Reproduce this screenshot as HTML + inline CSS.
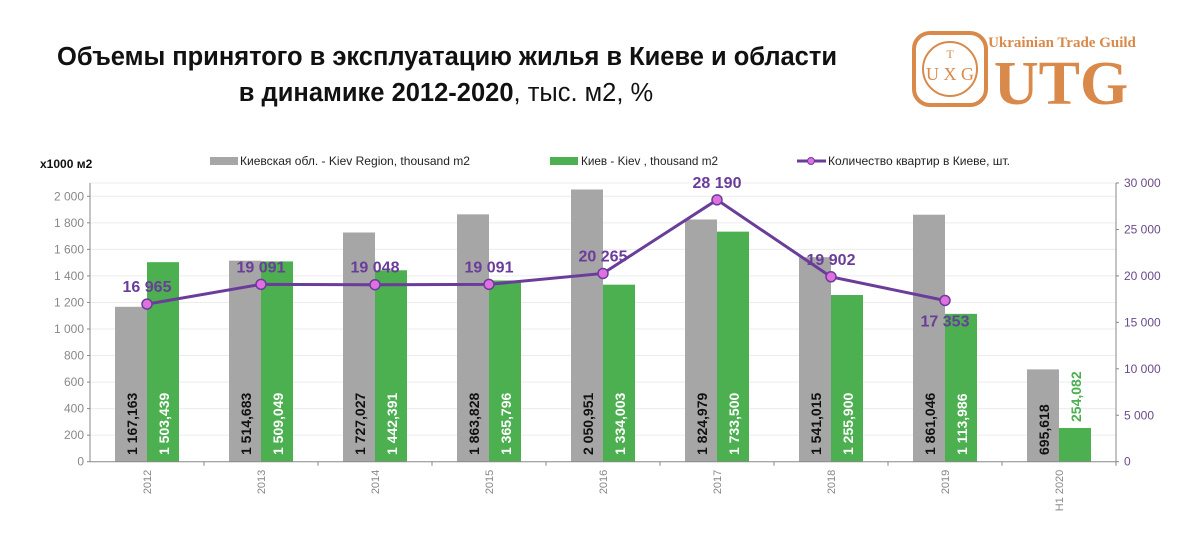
<!DOCTYPE html>
<html><head><meta charset="utf-8">
<style>
body{margin:0;background:#fff;width:1200px;height:533px;overflow:hidden;font-family:"Liberation Sans",sans-serif}
</style></head><body>
<svg width="1200" height="533" xmlns="http://www.w3.org/2000/svg">
<text x="447" y="65" text-anchor="middle" font-size="25.5" font-weight="bold" fill="#111" textLength="780">Объемы принятого в эксплуатацию жилья в Киеве и области</text>
<text x="446" y="101" text-anchor="middle" font-size="25.5" fill="#111"><tspan font-weight="bold">в динамике 2012-2020</tspan>, тыс. м2, %</text>
<g>
<rect x="914" y="33" width="72" height="72" rx="16" fill="none" stroke="#d9894a" stroke-width="4"/>
<circle cx="950" cy="69" r="27" fill="none" stroke="#d9894a" stroke-width="2"/>
<text x="950" y="58" text-anchor="middle" font-family="Liberation Serif" font-size="12" fill="#d9894a">T</text>
<text x="950" y="80" text-anchor="middle" font-family="Liberation Serif" font-size="18" fill="#d9894a">U X G</text>
<text x="1062" y="47" text-anchor="middle" font-family="Liberation Serif" font-size="15" font-weight="bold" fill="#d9894a">Ukrainian Trade Guild</text>
<text x="1061" y="104" text-anchor="middle" font-family="Liberation Serif" font-size="62" font-weight="bold" fill="#d9894a">UTG</text>
</g>
<text x="40" y="168" font-size="12" font-weight="bold" fill="#111">x1000 м2</text>
<g>
<rect x="210" y="157" width="28" height="8" fill="#a6a6a6"/><text x="240" y="165" font-size="12" fill="#222" textLength="230" lengthAdjust="spacingAndGlyphs">Киевская обл. - Kiev Region, thousand m2</text>
<rect x="550" y="157" width="28" height="8" fill="#4caf50"/>
<text x="581" y="165" font-size="12" fill="#222" textLength="137" lengthAdjust="spacingAndGlyphs">Киев - Kiev , thousand m2</text>
<line x1="797" y1="161" x2="826" y2="161" stroke="#6a3d9a" stroke-width="3"/><circle cx="811" cy="161" r="3.5" fill="#e070e0" stroke="#6a3d9a"/>
<text x="828" y="165" font-size="12" fill="#222" textLength="182" lengthAdjust="spacingAndGlyphs">Количество квартир в Киеве, шт.</text>
</g>
<g id="plot"></g>
</svg>
<script>
const categories=["2012","2013","2014","2015","2016","2017","2018","2019","H1 2020"];
const regionValues=[1167.163,1514.683,1727.027,1863.828,2050.951,1824.979,1541.015,1861.046,695.618];
const regionLabels=["1 167,163","1 514,683","1 727,027","1 863,828","2 050,951","1 824,979","1 541,015","1 861,046","695,618"];
const kievValues=[1503.439,1509.049,1442.391,1365.796,1334.003,1733.500,1255.900,1113.986,254.082];
const kievLabels=["1 503,439","1 509,049","1 442,391","1 365,796","1 334,003","1 733,500","1 255,900","1 113,986","254,082"];
const aptValues=[16965,19091,19048,19091,20265,28190,19902,17353];
const aptLabels=["16 965","19 091","19 048","19 091","20 265","28 190","19 902","17 353"];
const leftTicks=[0,200,400,600,800,1000,1200,1400,1600,1800,2000];
const rightTicks=[0,5000,10000,15000,20000,25000,30000];
const NS="http://www.w3.org/2000/svg",g=document.getElementById('plot');
const X0=90,X1=1116,Y0=461.7,YT=183;
const bw=(X1-X0)/categories.length;
const cx=i=>X0+bw*(i+0.5);
const yL=v=>Y0-v*(Y0-YT)/2100;
const yR=v=>Y0-v*(Y0-YT)/30000;
function el(t,a,p){const e=document.createElementNS(NS,t);for(const k in a)e.setAttribute(k,a[k]);(p||g).appendChild(e);return e;}
const fmt=v=>v>=1000?String(v).replace(/(\d)(\d{3})$/,'$1 $2'):String(v);
[...leftTicks.slice(1),2100].forEach(v=>{const l=el('line',{x1:X0,x2:X1,y1:yL(v),y2:yL(v),stroke:'#ececec'});});
leftTicks.forEach(v=>{const t=el('text',{x:X0-6,y:yL(v)+4,'text-anchor':'end','font-size':12,fill:'#888'});t.textContent=fmt(v);el('line',{x1:X0-3,x2:X0,y1:yL(v),y2:yL(v),stroke:'#888'});});
rightTicks.forEach(v=>{const t=el('text',{x:X1+8,y:yR(v)+4,'font-size':12,fill:'#6a4a8a'});t.textContent=fmt(v);el('line',{x1:X1,x2:X1+3,y1:yR(v),y2:yR(v),stroke:'#888'});});
categories.forEach((c,i)=>{
 const c0=cx(i);
 const r=el('rect',{x:c0-32,y:yL(regionValues[i]),width:32,height:Y0-yL(regionValues[i]),fill:'#a6a6a6'});
 
 const k=el('rect',{x:c0,y:yL(kievValues[i]),width:32,height:Y0-yL(kievValues[i]),fill:'#4caf50'});
 
 const t1=el('text',{transform:`translate(${c0-10},455) rotate(-90)`,'font-size':14,'font-weight':'bold',fill:'#111'});t1.textContent=regionLabels[i];
 
 const inside=Y0-yL(kievValues[i])>90;
 const t2=el('text',{transform:inside?`translate(${c0+22},455) rotate(-90)`:`translate(${c0+22},${yL(kievValues[i])-6}) rotate(-90)`,'font-size':14,'font-weight':'bold',fill:inside?'#fff':'#4caf50'});t2.textContent=kievLabels[i];
 
 const tl=el('text',{transform:`translate(${c0+4},${Y0+8}) rotate(-90)`,'text-anchor':'end','font-size':11,fill:'#888'});tl.textContent=c;
 
 el('line',{x1:X0+bw*(i+1),x2:X0+bw*(i+1),y1:Y0,y2:Y0+4,stroke:'#888'});
});
el('line',{x1:X0,x2:X0,y1:YT,y2:Y0,stroke:'#888'});
el('line',{x1:X1,x2:X1,y1:YT,y2:Y0,stroke:'#888'});
el('line',{x1:X0,x2:X1,y1:Y0,y2:Y0,stroke:'#888'});
const pts=aptValues.map((v,i)=>[cx(i),yR(v)]);
const pl=el('polyline',{points:pts.map(p=>p.join(',')).join(' '),fill:'none',stroke:'#6a3d9a','stroke-width':3});

pts.forEach((p,i)=>{
 const m=el('circle',{cx:p[0],cy:p[1],r:5,fill:'#e070e0',stroke:'#6a3d9a','stroke-width':1.5});
 
 const below=i===aptValues.length-1;
 const t=el('text',{x:p[0],y:below?p[1]+26:p[1]-12,'text-anchor':'middle','font-size':16,'font-weight':'bold',fill:'#6a3d9a'});t.textContent=aptLabels[i];
 
});
</script>
</body></html>
